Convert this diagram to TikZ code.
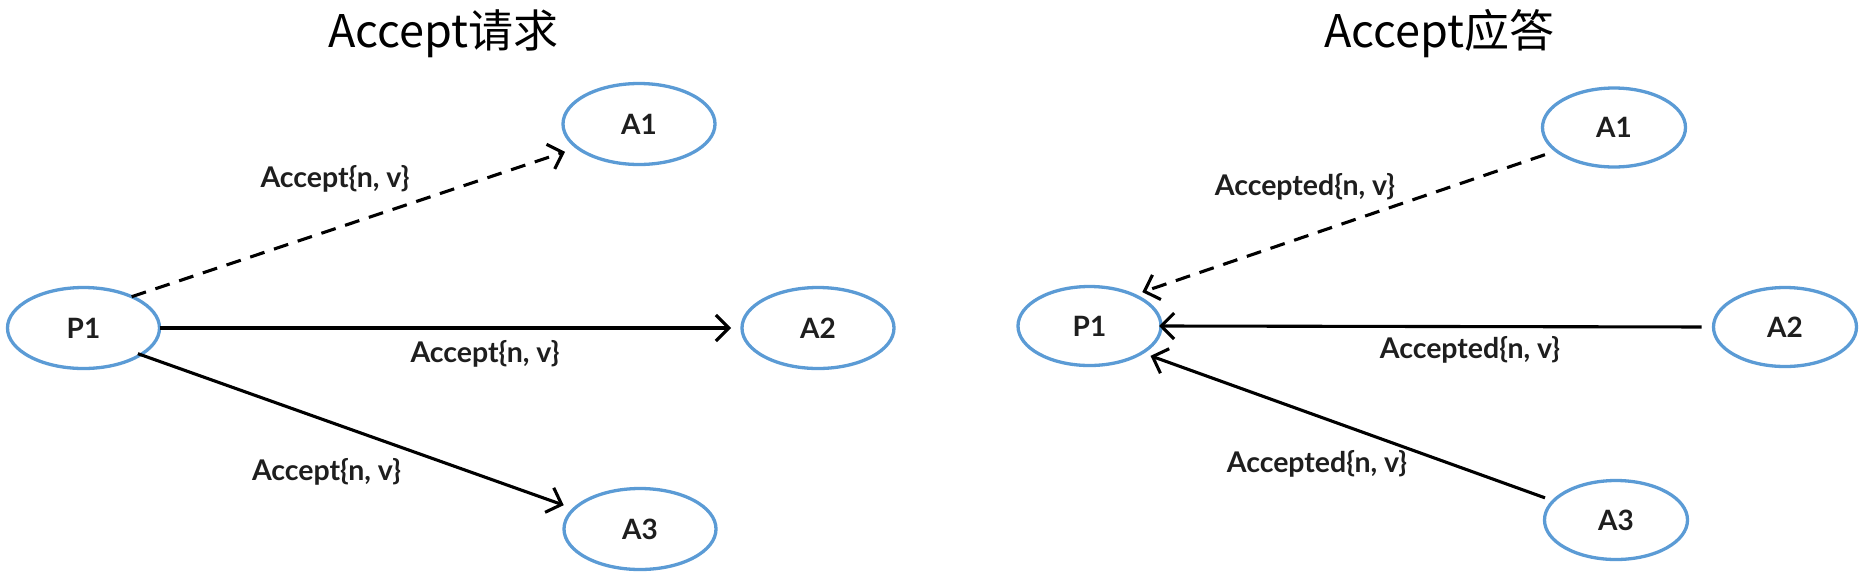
\documentclass[tikz,border=0pt]{standalone}
\usepackage{fontspec}
\setmainfont{Lato}
\newfontfamily\cjk{Noto Sans CJK SC}
\usetikzlibrary{shapes.geometric,arrows.meta}
\definecolor{ellblue}{RGB}{91,155,213}
\definecolor{txt}{RGB}{30,30,30}
\tikzset{
  proc/.style={ellipse,draw=ellblue,line width=3.3pt,inner sep=0pt,outer sep=0pt,
    minimum width=152pt,minimum height=81pt,font=\fontsize{28}{30}\selectfont\bfseries,text=txt},
  procR/.style={proc,minimum width=143pt,minimum height=79pt},
  msg/.style={line width=3.1pt,-{Straight Barb[length=13pt,width=26pt,line width=3.1pt]}},
  dmsg/.style={msg,dash pattern=on 15pt off 10pt},
  lbl/.style={anchor=base,inner sep=0pt,font=\fontsize{28.5}{30}\selectfont\bfseries,text=txt},
  ttl/.style={anchor=base,inner sep=0pt,font=\fontsize{45}{48}\selectfont\cjk}
}
\begin{document}
\begin{tikzpicture}[x=1pt,y=-1pt]
\useasboundingbox (0,0) rectangle (1860,582);
% titles
\node[ttl] (t1) at (443.5,47.5) {Accept请求};
\node[ttl] (t2) at (1439.5,47) {Accept应答};
% left panel
\node[proc] (P1L) at (83.5,328) {P1};
\node[proc] (A1L) at (639,124) {A1};
\node[proc] (A2L) at (818,328) {A2};
\node[proc] (A3L) at (640,529) {A3};
\draw[dmsg,shorten >=13pt] (P1L.33) -- (A1L.201);
\draw[msg,shorten >=11pt] (P1L.east) -- (A2L.west);
\draw[msg,shorten <=-3pt,shorten >=11pt] (P1L.-25) -- (A3L.163);
\node[lbl] (l1) at (335,187) {Accept\{n, v\}};
\node[lbl] (l2) at (485,362) {Accept\{n, v\}};
\node[lbl] (l3) at (326.5,480) {Accept\{n, v\}};
% right panel
\node[procR] (P1R) at (1089.5,326) {P1};
\node[procR] (A1R) at (1614,127.5) {A1};
\node[procR] (A2R) at (1785,327) {A2};
\node[procR] (A3R) at (1616,520) {A3};
\draw[dmsg,shorten <=12pt,shorten >=9pt] (A1R.202) -- (P1R.35);
\draw[msg,shorten <=12pt,shorten >=-2pt] (A2R.west) -- (P1R.east);
\draw[msg,shorten <=9pt,shorten >=9pt] (A3R.163) -- (P1R.-27);
\node[lbl] (r1) at (1305,195) {Accepted\{n, v\}};
\node[lbl] (r2) at (1470,358) {Accepted\{n, v\}};
\node[lbl] (r3) at (1317,472) {Accepted\{n, v\}};
\end{tikzpicture}
\end{document}
